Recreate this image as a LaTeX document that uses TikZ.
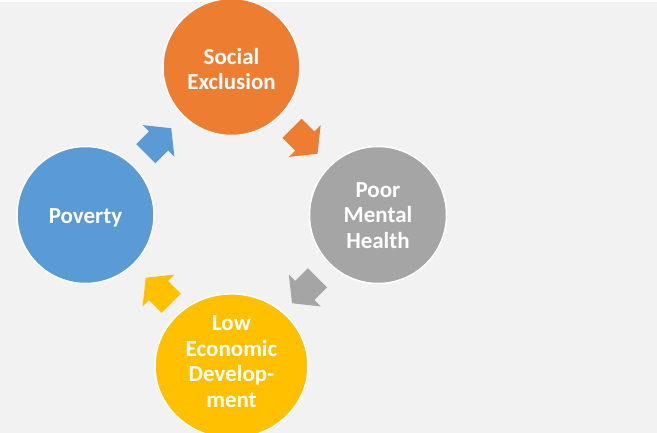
\documentclass[tikz,border=0pt]{standalone}
\usepackage{fontspec}
\setmainfont{Carlito}
\usetikzlibrary{shapes.geometric,calc}
\definecolor{bgc}{HTML}{F2F2F2}
\definecolor{cblue}{HTML}{5B9BD5}
\definecolor{corange}{HTML}{ED7D31}
\definecolor{cgray}{HTML}{A5A5A5}
\definecolor{cyellow}{HTML}{FFC000}
\tikzset{
  bubble/.style={circle, fill=#1, draw=white, line width=1.5pt, minimum size=137pt, inner sep=0pt,
    text=white, font=\fontsize{23}{25.5}\selectfont\bfseries, align=center},
  oval/.style={ellipse, fill=#1, draw=white, line width=1.5pt, minimum width=153pt, minimum height=132pt, inner sep=0pt,
    text=white, font=\fontsize{23}{25.5}\selectfont\bfseries, align=center},
}
\newcommand\ctext[2]{\raisebox{#1}[\height][\depth]{\begin{tabular}{@{}c@{}}#2\end{tabular}}}
\newcommand\blockarrow[4]{%
  \path ($(#1)!0.5!(#2)$) coordinate (m-#1-#2);
  \fill[#4, shift={(m-#1-#2)}, rotate=#3]
    (-18,13.5) -- (0,13.5) -- (0,22.5) -- (18,0) -- (0,-22.5) -- (0,-13.5) -- (-18,-13.5) -- cycle;
}
\begin{document}
\begin{tikzpicture}[x=1pt,y=-1pt]
\useasboundingbox (0,0) rectangle (657,433);
\fill[bgc] (0,0) rectangle (657,433);
\fill[white] (0,0) rectangle (657,2);
\node[bubble=corange] (soc) at (231.5,67) {\ctext{-5pt}{Social\\Exclusion}};
\node[bubble=cgray] (pmh) at (378,215) {\ctext{-2.5pt}{Poor\\Mental\\Health}};
\node[bubble=cblue] (pov) at (85.5,215) {\ctext{-3pt}{Poverty}};
\node[oval=cyellow] (low) at (231.5,366) {\ctext{2pt}{Low\\Economic\\Develop-\\ment}};
\blockarrow{pov}{soc}{45}{cblue}
\blockarrow{soc}{pmh}{-45}{corange}
\blockarrow{pmh}{low}{-135}{cgray}
\blockarrow{low}{pov}{135}{cyellow}
\end{tikzpicture}
\end{document}
